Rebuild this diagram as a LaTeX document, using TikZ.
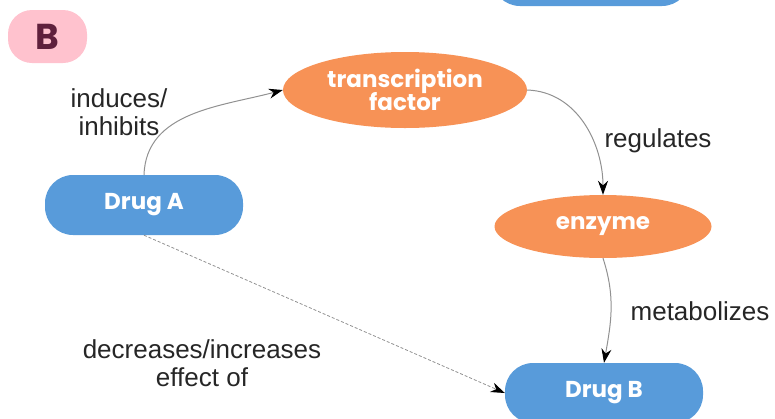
\documentclass[tikz,border=0pt]{standalone}
\usepackage{fontspec}
\setmainfont{Liberation Sans}
\newfontfamily\nodefont{Poppins}
\usetikzlibrary{arrows.meta,shapes.geometric}
\definecolor{drugblue}{RGB}{88,155,218}
\definecolor{orangec}{RGB}{247,146,86}
\definecolor{pinkc}{RGB}{255,194,206}
\definecolor{bcol}{RGB}{95,32,60}
\definecolor{linec}{RGB}{145,145,145}
\tikzset{
  drug/.style={draw=none,fill=drugblue,rounded corners=28pt,minimum width=198pt,minimum height=60pt,
    text=white,font=\nodefont\bfseries\fontsize{23}{26}\selectfont},
  bubble/.style={ellipse,draw=none,fill=orangec,text=white,align=center,inner sep=0pt,
    font=\nodefont\bfseries\fontsize{23}{27}\selectfont},
  lbl/.style={align=center,font=\fontsize{26}{28}\selectfont,text=black!85},
  arr/.style={draw=linec,line width=1pt,-{Stealth[length=14pt,width=10pt,color=black]}},
  darr/.style={draw=linec,line width=0.8pt,dash pattern=on 3pt off 2pt,-{Stealth[length=14pt,width=10pt,color=black]}}
}
\begin{document}
\begin{tikzpicture}[x=1pt,y=-1pt]
\useasboundingbox (0,0) rectangle (775,418);
\begin{scope}
\clip (0,0) rectangle (775,418);
\node[drug] (top) at (591,-24) {};
\node[drug] (B) at (604,393) {Drug B};
\end{scope}
\node[draw=none,fill=pinkc,rounded corners=24pt,minimum width=79pt,minimum height=53pt,
  text=bcol,font=\nodefont\bfseries\fontsize{36}{36}\selectfont] (badge) at (47.5,36.5) {B};
\node[bubble,minimum width=244pt,minimum height=76pt] (tf) at (405,90) {transcription\\[-4pt]factor};
\node[bubble,minimum width=217pt,minimum height=63pt] (enz) at (603,226.5) {enzyme};
\node[drug] (A) at (144,205) {Drug A};
\draw[arr] (A.north) to[out=88,in=195] (tf.west);
\draw[arr] (tf.east) to[out=-2,in=90] (enz.north);
\draw[arr] (enz.south) to[out=-72,in=80] (B.north);
\draw[darr] (A.south) -- (B.west);
\node[lbl] (l1) at (119,112) {induces/\\inhibits};
\node[lbl] (l2) at (658,141) {regulates};
\node[lbl] (l3) at (700,311) {metabolizes};
\node[lbl] (l4) at (202,363) {decreases/increases\\effect of};
\end{tikzpicture}
\end{document}
